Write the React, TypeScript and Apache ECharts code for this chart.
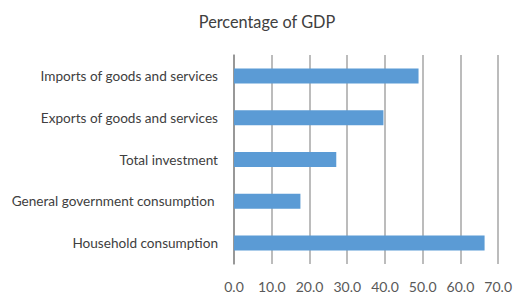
import React, { useEffect, useRef } from "react";
import * as echarts from "echarts";

const categories = [
  "Household consumption",
  "General government consumption ",
  "Total investment",
  "Exports of goods and services",
  "Imports of goods and services",
];
const values = [66.4, 17.6, 27.1, 39.6, 48.9];
const xTicks = { min: 0, max: 70, interval: 10 };
const title = "Percentage of GDP";

export default function App() {
  const ref = useRef<HTMLDivElement>(null);
  useEffect(() => {
    document.body.style.margin = "0";
    const chart = echarts.init(ref.current!, null, { renderer: "svg" });
    const font = "Lato, 'Open Sans', sans-serif";
    chart.setOption({
      animation: false,
      title: {
        text: title,
        left: 262,
        textAlign: "center",
        top: 8,
        textStyle: { fontFamily: font, fontSize: 16.3, fontWeight: "normal", color: "#404040" },
      },
      grid: { left: 234, right: 12, top: 55, bottom: 30 },
      xAxis: {
        type: "value",
        min: xTicks.min,
        max: xTicks.max,
        interval: xTicks.interval,
        axisLine: { show: false },
        axisTick: { show: false },
        splitLine: { show: true, lineStyle: { color: "#a6a6a6", width: 1.5 } },
        axisLabel: {
          formatter: (v: number) => v.toFixed(1),
          fontFamily: font,
          fontSize: 14,
          color: "#595959",
          margin: 15,
        },
      },
      yAxis: {
        type: "category",
        data: categories,
        axisLine: { show: true, lineStyle: { color: "#8c8c8c", width: 1.5 } },
        axisTick: { show: false },
        axisLabel: { fontFamily: font, fontSize: 13.6, color: "#404040", margin: 16 },
      },
      series: [
        {
          type: "bar",
          data: values,
          barWidth: 15,
          itemStyle: { color: "#5b9bd5" },
        },
      ],
    });
    return () => chart.dispose();
  }, []);
  return <div ref={ref} style={{ width: 515, height: 294 }} />;
}
